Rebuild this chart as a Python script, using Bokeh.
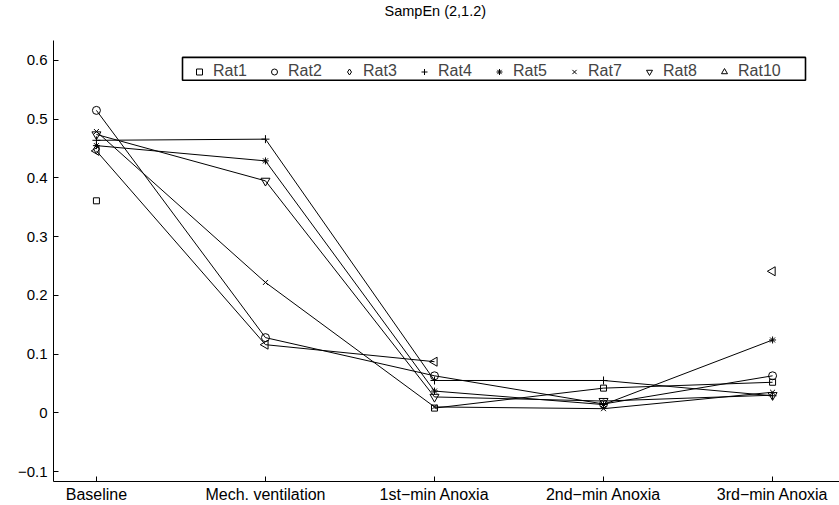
import math
from bokeh.plotting import figure
from bokeh.models import (FixedTicker, CustomJSTickFormatter, Legend, LegendItem, Range1d,
                          Title, BoxAnnotation)
from bokeh.embed import file_html
from bokeh.resources import INLINE

nan = float("nan")

stages = ["Baseline", "Mech. ventilation", "1st\u2212min Anoxia", "2nd\u2212min Anoxia", "3rd\u2212min Anoxia"]
stage_x = [1, 2, 3, 4, 5]

rat_names = ["Rat1", "Rat2", "Rat3", "Rat4", "Rat5", "Rat7", "Rat8", "Rat10"]
rat1 = [0.361, nan, 0.008, 0.042, 0.052]
rat2 = [0.515, 0.128, 0.063, 0.015, 0.063]
rat3 = [0.449, nan, nan, nan, nan]
rat4 = [0.464, 0.466, 0.055, 0.055, 0.029]
rat5 = [0.455, 0.429, 0.037, 0.014, 0.124]
rat7 = [0.479, 0.222, 0.010, 0.007, 0.035]
rat8 = [0.474, 0.395, 0.027, 0.020, 0.030]
rat10 = [0.446, 0.116, 0.087, nan, 0.241]
series = [rat1, rat2, rat3, rat4, rat5, rat7, rat8, rat10]

y_ticks = [-0.1, 0.0, 0.1, 0.2, 0.3, 0.4, 0.5, 0.6]
title_text = "SampEn (2,1.2)"

markers = ["square", "circle", "diamond", "cross", "asterisk", "x", "inverted_triangle", "triangle"]
angles = [0, 0, 0, 0, 0, 0, 0, math.pi / 2]
sizes = [6, 8, 9, 8, 7, 7, 9, 9]

FONT = "Liberation Sans"
X0, X1 = 0.746, 5.396
Y0, Y1 = -0.117, 0.634

p = figure(width=839, height=505, output_backend="svg", toolbar_location=None,
           title=None,
           x_range=Range1d(X0, X1), y_range=Range1d(Y0, Y1),
           min_border_left=53, min_border_right=0, min_border_top=40, min_border_bottom=22)
p.outline_line_color = None
p.xgrid.visible = False
p.ygrid.visible = False
p.background_fill_color = "white"
p.border_fill_color = "white"

# spacer (nearest the frame) then the visible title above it
p.add_layout(Title(text=" ", text_font_size="1px", standoff=19), "above")
p.add_layout(Title(text=title_text, text_font=FONT, text_font_size="14.5px",
                   text_font_style="normal", text_color="black",
                   align="left", offset=331, standoff=0), "above")

# pixel scales of the frame (786 x 443 px)
px_x = (X1 - X0) / 786.0
px_y = (Y1 - Y0) / 443.0

# legend frame
p.add_layout(BoxAnnotation(left=X0 + 129 * px_x, right=X0 + 752 * px_x,
                           top=Y1 - 17 * px_y, bottom=Y1 - 40 * px_y,
                           fill_color="white", fill_alpha=1,
                           line_color="black", line_alpha=1, line_width=1.6))

items = []
for name, ys, mk, ang, sz in zip(rat_names, series, markers, angles, sizes):
    p.line(stage_x, ys, line_color="black", line_width=1)
    r = p.scatter(stage_x, ys, marker=mk, angle=ang, size=sz, line_color="black",
                  fill_color=None, line_width=1)
    items.append(LegendItem(label=name, renderers=[r]))

for ax in (p.xaxis[0], p.yaxis[0]):
    ax.axis_line_color = "black"
    ax.major_tick_line_color = "black"
    ax.major_tick_in = 5
    ax.major_tick_out = 0
    ax.minor_tick_line_color = None
    ax.major_label_text_font = FONT
    ax.major_label_text_color = "black"

p.xaxis.major_label_text_font_size = "16px"
p.yaxis.major_label_text_font_size = "15px"
p.xaxis.ticker = FixedTicker(ticks=stage_x)
p.xaxis.major_label_overrides = {x: s for x, s in zip(stage_x, stages)}
p.xaxis.major_label_standoff = 4
p.yaxis.ticker = FixedTicker(ticks=y_ticks)
p.yaxis.formatter = CustomJSTickFormatter(code="""
if (Math.abs(tick) < 1e-9) return "0";
const s = Math.abs(tick).toFixed(1);
return (tick < 0 ? "\\u2212" : "") + s;
""")
p.yaxis.major_label_standoff = 6

legend = Legend(items=items, orientation="horizontal", location=(133, 401))
legend.label_text_font = FONT
legend.label_text_font_size = "16px"
legend.glyph_width = 26
legend.glyph_height = 15
legend.label_standoff = 1
legend.label_height = 15
legend.label_width = 39
legend.spacing = 9
legend.padding = 3
legend.margin = 0
legend.border_line_color = None
legend.background_fill_color = None
legend.background_fill_alpha = 0
p.add_layout(legend, "center")

open("out.html", "w").write(file_html(p, INLINE))
